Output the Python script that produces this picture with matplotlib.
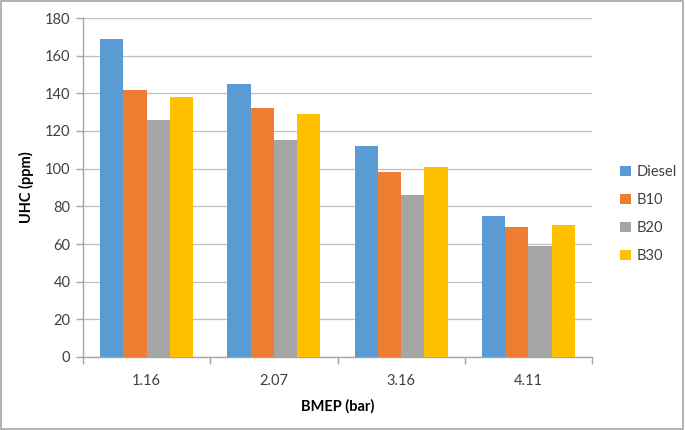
import matplotlib
matplotlib.use("Agg")
import matplotlib.pyplot as plt
import numpy as np
from matplotlib.patches import Rectangle

categories = ["1.16", "2.07", "3.16", "4.11"]
series_names = ["Diesel", "B10", "B20", "B30"]
diesel = [169, 145, 112, 75]
b10 = [142, 132, 98, 69]
b20 = [126, 115, 86, 59]
b30 = [138, 129, 101, 70]
colors = ["#5B9BD5", "#ED7D31", "#A5A5A5", "#FFC000"]
yticks = [0, 20, 40, 60, 80, 100, 120, 140, 160, 180]

plt.rcParams['font.family'] = ['Lato', 'DejaVu Sans']

fig = plt.figure(figsize=(6.85, 4.3), dpi=100)
ax = fig.add_axes([83/685, 1 - 357/430, (592-83)/685, (357-18)/430])

data = [diesel, b10, b20, b30]
n = len(series_names)
bw = 0.183
x = np.arange(len(categories))
for i, (name, vals, c) in enumerate(zip(series_names, data, colors)):
    offs = (i - (n - 1) / 2) * bw
    ax.bar(x + offs, vals, width=bw, color=c, label=name, zorder=3)

ax.set_xlim(-0.5, len(categories) - 0.5)
ax.set_ylim(0, 180)
ax.set_yticks(yticks)
ax.set_yticklabels([str(v) for v in yticks], fontsize=10.5, color="#404040")
ax.set_xticks(x)
ax.set_xticklabels(categories, fontsize=10.5, color="#404040")
ax.tick_params(axis='x', length=0, pad=12)
ax.set_xticks(np.arange(-0.5, len(categories)), minor=True)
ax.tick_params(axis='x', which='minor', length=5, color="#A6A6A6", width=1)
ax.tick_params(axis='y', length=5, color="#A6A6A6", width=1, pad=4)

ax.grid(axis='y', color="#BFBFBF", linewidth=0.9, zorder=0)
for s in ['top', 'right']:
    ax.spines[s].set_visible(False)
for s in ['left', 'bottom']:
    ax.spines[s].set_color("#A6A6A6")
    ax.spines[s].set_linewidth(1)

ax.set_ylabel("UHC (ppm)", fontsize=10.5, fontweight='bold', color="#000000", labelpad=8)
ax.set_xlabel("BMEP (bar)", fontsize=10.5, fontweight='bold', color="#000000", labelpad=8)

leg = ax.legend(loc='center left', bbox_to_anchor=(1.03, 0.422), frameon=False,
                fontsize=10.5, handlelength=0.7, handleheight=0.7,
                labelspacing=0.95, handletextpad=0.4)
for t in leg.get_texts():
    t.set_color("#404040")

fig.patches.append(Rectangle((0.002, 0.003), 0.995, 0.994, transform=fig.transFigure,
                             fill=False, edgecolor="#A6A6A6", linewidth=1.2))

fig.savefig("out.png", dpi=100)
